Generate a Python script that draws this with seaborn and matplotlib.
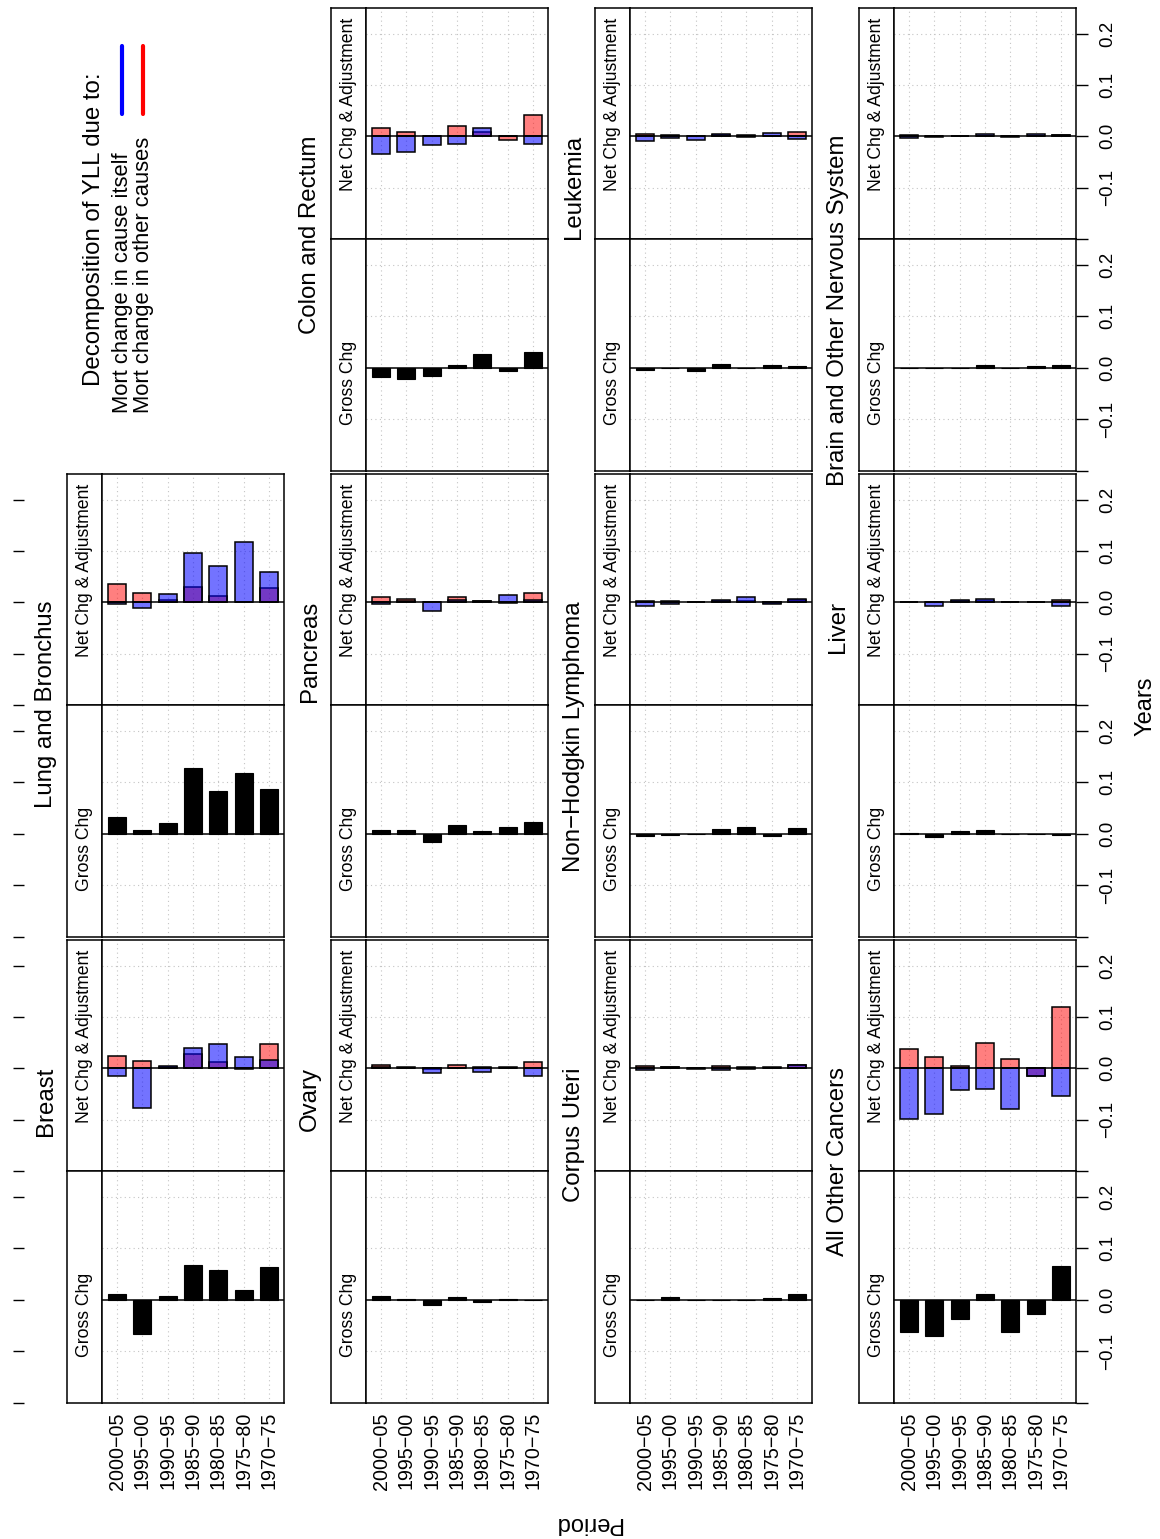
import numpy as np
import pandas as pd
import matplotlib
matplotlib.use("Agg")
import matplotlib.pyplot as plt
import seaborn as sns
from matplotlib.lines import Line2D

sns.set_theme(style="white")
plt.rcParams["font.family"] = ["Liberation Sans", "DejaVu Sans"]
plt.rcParams["text.color"] = "black"
plt.rcParams["axes.labelcolor"] = "black"
plt.rcParams["xtick.color"] = "black"
plt.rcParams["ytick.color"] = "black"

periods = ["2000−05", "1995−00", "1990−95", "1985−90", "1980−85", "1975−80", "1970−75"]

layout = [
    [None, "Colon and Rectum", "Leukemia", "Brain and Other Nervous System"],
    ["Lung and Bronchus", "Pancreas", "Non−Hodgkin Lymphoma", "Liver"],
    ["Breast", "Ovary", "Corpus Uteri", "All Other Cancers"],
]

# Mort change in cause itself (blue)
cause_itself = {
    "Lung and Bronchus": [-0.003, -0.012, 0.0156, 0.0955, 0.070, 0.118, 0.059],
    "Breast": [-0.0143, -0.077, 0.004, 0.039, 0.0465, 0.0225, 0.017],
    "Colon and Rectum": [-0.034, -0.0305, -0.016, -0.0156, 0.016, 0.001, -0.014],
    "Pancreas": [-0.0026, 0.002, -0.017, 0.005, 0.003, 0.014, 0.005],
    "Ovary": [0.002, 0.002, -0.009, 0.000, -0.007, 0.002, -0.0143],
    "Leukemia": [-0.0084, -0.003, -0.007, 0.005, -0.002, 0.0065, -0.0058],
    "Non−Hodgkin Lymphoma": [-0.007, -0.004, 0.0, 0.005, 0.011, -0.004, 0.006],
    "Corpus Uteri": [-0.004, 0.002, -0.002, -0.004, -0.002, 0.002, 0.006],
    "Brain and Other Nervous System": [-0.004, -0.001, 0.0, 0.004, 0.0005, 0.004, 0.003],
    "Liver": [0.001, -0.008, 0.004, 0.006, 0.0, 0.0, -0.007],
    "All Other Cancers": [-0.099, -0.089, -0.042, -0.040, -0.080, -0.014, -0.054],
}
# Mort change in other causes (red)
other_causes = {
    "Lung and Bronchus": [0.035, 0.019, 0.005, 0.0305, 0.0117, 0.001, 0.027],
    "Breast": [0.0248, 0.0135, 0.002, 0.027, 0.012, -0.002, 0.047],
    "Colon and Rectum": [0.0156, 0.009, 0.001, 0.021, 0.008, -0.007, 0.042],
    "Pancreas": [0.0097, 0.006, 0.0, 0.011, 0.002, -0.001, 0.0175],
    "Ovary": [0.006, 0.001, -0.001, 0.006, 0.002, 0.001, 0.0128],
    "Leukemia": [0.004, 0.003, 0.0, 0.003, 0.002, 0.0, 0.0078],
    "Non−Hodgkin Lymphoma": [0.003, 0.002, 0.0, 0.003, 0.002, -0.001, 0.004],
    "Corpus Uteri": [0.004, 0.002, 0.001, 0.004, 0.002, 0.001, 0.006],
    "Brain and Other Nervous System": [0.002, 0.001, 0.0, 0.001, -0.0005, 0.0, 0.002],
    "Liver": [0.001, 0.001, 0.002, 0.002, 0.0, 0.0, 0.0045],
    "All Other Cancers": [0.038, 0.022, 0.005, 0.050, 0.018, -0.014, 0.120],
}
# Gross change (black)
gross_change = {
    "Lung and Bronchus": [0.033, 0.0084, 0.021, 0.127, 0.0825, 0.119, 0.087],
    "Breast": [0.011, -0.066, 0.0075, 0.0668, 0.0585, 0.020, 0.0645],
    "Colon and Rectum": [-0.018, -0.022, -0.015, 0.0065, 0.026, -0.006, 0.030],
    "Pancreas": [0.0084, 0.0084, -0.016, 0.018, 0.0065, 0.013, 0.024],
    "Ovary": [0.008, 0.002, -0.0105, 0.006, -0.005, 0.002, -0.001],
    "Leukemia": [-0.004, 0.0, -0.0065, 0.0084, 0.0, 0.0065, 0.004],
    "Non−Hodgkin Lymphoma": [-0.004, -0.0026, 0.0, 0.009, 0.013, -0.005, 0.011],
    "Corpus Uteri": [0.0, 0.005, -0.001, 0.0, -0.001, 0.003, 0.012],
    "Brain and Other Nervous System": [-0.001, 0.0, 0.0, 0.005, 0.0, 0.0045, 0.005],
    "Liver": [0.001, -0.007, 0.0065, 0.0084, 0.0, 0.0, -0.0026],
    "All Other Cancers": [-0.062, -0.070, -0.0375, 0.0105, -0.062, -0.028, 0.066],
}

value_ticks = [-0.2, -0.1, 0.0, 0.1, 0.2]
value_labels = {-0.1: "−0.1", 0.0: "0.0", 0.1: "0.1", 0.2: "0.2"}
strip_names = ["Net Chg & Adjustment", "Gross Chg"]

W, H = 1160, 1539
fig = plt.figure(figsize=(W / 100, H / 100), dpi=100)


def fr(x0, y0, x1, y1):
    return [x0 / W, 1 - y1 / H, (x1 - x0) / W, (y1 - y0) / H]


GRID = dict(color="#c4c4c4", lw=0.8, ls=(0, (1, 3)), zorder=0)
FRAME_LW = 1.1


def bars(ax, vals, face, lw):
    n0 = len(ax.patches)
    df = pd.DataFrame({"period": periods, "value": vals})
    sns.barplot(data=df, x="period", y="value", order=periods, color="black",
                saturation=1, width=0.714, errorbar=None, ax=ax,
                edgecolor="black", linewidth=lw)
    for p in ax.patches[n0:]:
        p.set_facecolor(face)
        p.set_zorder(2)


for r in range(3):
    for c in range(4):
        name = layout[r][c]
        if name is None:
            continue
        top = 8 + 466 * r
        sl, pl, pr = 67 + 264 * c, 102 + 264 * c, 284 + 264 * c
        subs = [(top, top + 231), (top + 231, top + 463)]
        # title
        fig.text((sl - 21) / W, 1 - (top + 127) / H, name, rotation=90,
                 ha="center", va="top", fontsize=17.3)
        for k, (y0, y1) in enumerate(subs):
            # strip
            sax = fig.add_axes(fr(sl, y0, pl, y1))
            sax.set_xticks([]); sax.set_yticks([])
            for s in sax.spines.values():
                s.set_linewidth(FRAME_LW); s.set_color("black")
            if k == 0:
                sax.text(0.5, 1 - 10 / 231, strip_names[0], rotation=90,
                         ha="center", va="top", fontsize=12.7, transform=sax.transAxes)
            else:
                sax.text(0.5, 46 / 232, strip_names[1], rotation=90,
                         ha="center", va="bottom", fontsize=12.7, transform=sax.transAxes)
            # panel
            ax = fig.add_axes(fr(pl, y0, pr, y1))
            for i in range(len(periods)):
                ax.axvline(i, **GRID)
            for v in value_ticks:
                if v != 0.0:
                    ax.axhline(v, **GRID)
            if k == 0:
                bars(ax, other_causes[name], (1.0, 0.0, 0.0, 0.5), 1.1)
                bars(ax, cause_itself[name], (0.0, 0.0, 1.0, 0.55), 1.1)
            else:
                bars(ax, gross_change[name], "black", 0.8)
            ax.axhline(0, color="black", lw=1.1, zorder=4)
            ax.set_xlim(-0.6, 6.6)
            ax.set_ylim(-0.2, 0.25)
            ax.set_xlabel(""); ax.set_ylabel("")
            ax.set_xticks([])
            for s in ax.spines.values():
                s.set_linewidth(FRAME_LW); s.set_color("black"); s.set_visible(True)
            ax.grid(False)
            if c == 3:
                ax.yaxis.tick_right()
                ax.set_yticks(value_ticks)
                ax.set_yticklabels([])
                ax.tick_params(axis="y", direction="out", length=8.6, width=1.0,
                               right=True, left=False, colors="black")
                for v, lab in value_labels.items():
                    ax.text(1 + 32 / 182, v, lab, transform=ax.get_yaxis_transform(),
                            rotation=90, ha="center", va="center", fontsize=13.5)
            else:
                ax.set_yticks([])
            if c == 0:
                tax = fig.add_axes(fr(13, y0, 40, y1))
                tax.set_ylim(-0.2, 0.25)
                tax.set_xticks([])
                tax.set_yticks(value_ticks)
                tax.set_yticklabels([])
                tax.tick_params(axis="y", direction="in", length=7.9, width=1.0,
                                left=True, colors="black")
                for s in tax.spines.values():
                    s.set_visible(False)
                tax.patch.set_visible(False)
            if r == 2 and k == 1:
                for i, p in enumerate(periods):
                    ax.text(i, -9 / 232, p, transform=ax.get_xaxis_transform(),
                            rotation=90, ha="center", va="top", fontsize=14.2)

# legend
fig.text(94 / W, 1 - 229.5 / H, "Decomposition of YLL due to:", rotation=90,
         ha="center", va="center", fontsize=17.3)
fig.text(122.5 / W, 1 - 413 / H, "Mort change in cause itself", rotation=90,
         ha="center", va="bottom", fontsize=15.8)
fig.text(144 / W, 1 - 413 / H, "Mort change in other causes", rotation=90,
         ha="center", va="bottom", fontsize=15.8)
fig.add_artist(Line2D([121.7 / W] * 2, [1 - 46 / H, 1 - 114 / H], color="blue",
                      lw=3, solid_capstyle="round"))
fig.add_artist(Line2D([142.7 / W] * 2, [1 - 46 / H, 1 - 114 / H], color="red",
                      lw=3, solid_capstyle="round"))

fig.text(1145 / W, 1 - 706 / H, "Years", rotation=90, ha="center", va="center", fontsize=17)
fig.text(588 / W, 1 - 1523 / H, "Period", rotation=180, ha="center", va="center", fontsize=17)

fig.savefig("out.png", dpi=100, facecolor="white")
